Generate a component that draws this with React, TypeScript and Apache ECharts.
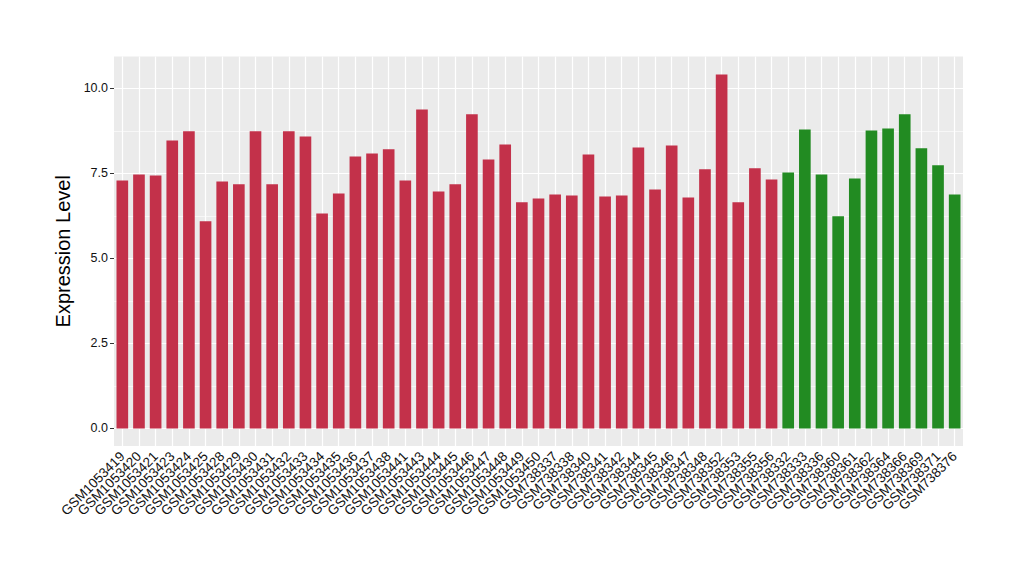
import React, { useEffect, useRef } from "react";
import * as echarts from "echarts";

const redSamples = [
  "GSM1053419", "GSM1053420", "GSM1053421", "GSM1053423", "GSM1053424", "GSM1053425",
  "GSM1053428", "GSM1053429", "GSM1053430", "GSM1053431", "GSM1053432", "GSM1053433",
  "GSM1053434", "GSM1053435", "GSM1053436", "GSM1053437", "GSM1053438", "GSM1053441",
  "GSM1053443", "GSM1053444", "GSM1053445", "GSM1053446", "GSM1053447", "GSM1053448",
  "GSM1053449", "GSM1053450", "GSM738337", "GSM738338", "GSM738340", "GSM738341",
  "GSM738342", "GSM738344", "GSM738345", "GSM738346", "GSM738347", "GSM738348",
  "GSM738352", "GSM738353", "GSM738355", "GSM738356",
];
const redValues = [
  7.29, 7.47, 7.44, 8.47, 8.74, 6.09, 7.26, 7.18, 8.74, 7.18, 8.74, 8.59,
  6.32, 6.91, 8.0, 8.09, 8.21, 7.29, 9.38, 6.97, 7.18, 9.24, 7.91, 8.35,
  6.65, 6.76, 6.88, 6.85, 8.06, 6.82, 6.85, 8.26, 7.03, 8.32, 6.79, 7.62,
  10.41, 6.65, 7.65, 7.32,
];
const greenSamples = [
  "GSM738332", "GSM738333", "GSM738336", "GSM738360", "GSM738361", "GSM738362",
  "GSM738364", "GSM738366", "GSM738369", "GSM738371", "GSM738376",
];
const greenValues = [7.53, 8.79, 7.47, 6.24, 7.35, 8.76, 8.82, 9.24, 8.24, 7.74, 6.88];

const yTicks = [0, 2.5, 5, 7.5, 10];
const yMinorTicks = [1.25, 3.75, 6.25, 8.75];

const RED = "#C3314A";
const GREEN = "#228B22";

export default function App() {
  const ref = useRef<HTMLDivElement>(null);
  useEffect(() => {
    document.body.style.margin = "0";
    if (!ref.current) return;
    const chart = echarts.init(ref.current, undefined, { renderer: "svg" });
    const categories = [...redSamples, ...greenSamples];
    const barData = [
      ...redValues.map((v) => ({ value: v, itemStyle: { color: RED } })),
      ...greenValues.map((v) => ({ value: v, itemStyle: { color: GREEN } })),
    ];
    const font = "Liberation Sans, Arial, sans-serif";
    chart.setOption({
      animation: false,
      grid: {
        left: 114,
        right: 57,
        top: 56.5,
        height: 389.6,
        show: true,
        backgroundColor: "#EBEBEB",
        borderWidth: 0,
      },
      xAxis: {
        type: "category",
        data: categories,
        boundaryGap: true,
        axisLine: { show: false },
        axisTick: { show: true, alignWithLabel: true, length: 4, lineStyle: { color: "#333333", width: 1 } },
        axisLabel: {
          rotate: 45,
          interval: 0,
          fontSize: 13.5,
          color: "#111111",
          fontFamily: font,
          margin: 8,
        },
        splitLine: { show: false },
      },
      yAxis: {
        type: "value",
        min: -0.521,
        max: 10.94,
        axisLine: { show: false },
        axisTick: { show: true, customValues: yTicks, length: 4, lineStyle: { color: "#333333", width: 1 } },
        axisLabel: {
          customValues: yTicks,
          formatter: (v: number) => v.toFixed(1),
          fontSize: 12.5,
          color: "#111111",
          fontFamily: font,
          margin: 6,
        },
        splitLine: { show: false },
        name: "Expression Level",
        nameLocation: "middle",
        nameGap: 39,
        nameTextStyle: { fontSize: 20, color: "#000", fontFamily: font },
      },
      series: [
        {
          type: "line",
          data: [],
          z: 1,
          silent: true,
          markLine: {
            silent: true,
            symbol: "none",
            z: 1,
            label: { show: false },
            animation: false,
            data: [
              ...yMinorTicks.map((y) => ({ yAxis: y, lineStyle: { color: "#FFFFFF", width: 0.6, type: "solid" } })),
              ...yTicks.map((y) => ({ yAxis: y, lineStyle: { color: "#FFFFFF", width: 1.2, type: "solid" } })),
              ...categories.map((_, i) => ({ xAxis: i, lineStyle: { color: "#FFFFFF", width: 1.2, type: "solid" } })),
            ],
          },
        },
        {
          type: "bar",
          data: barData,
          barWidth: "70%",
          z: 10,
        },
      ],
    });
    return () => chart.dispose();
  }, []);
  return <div ref={ref} style={{ width: 1020, height: 580 }} />;
}
